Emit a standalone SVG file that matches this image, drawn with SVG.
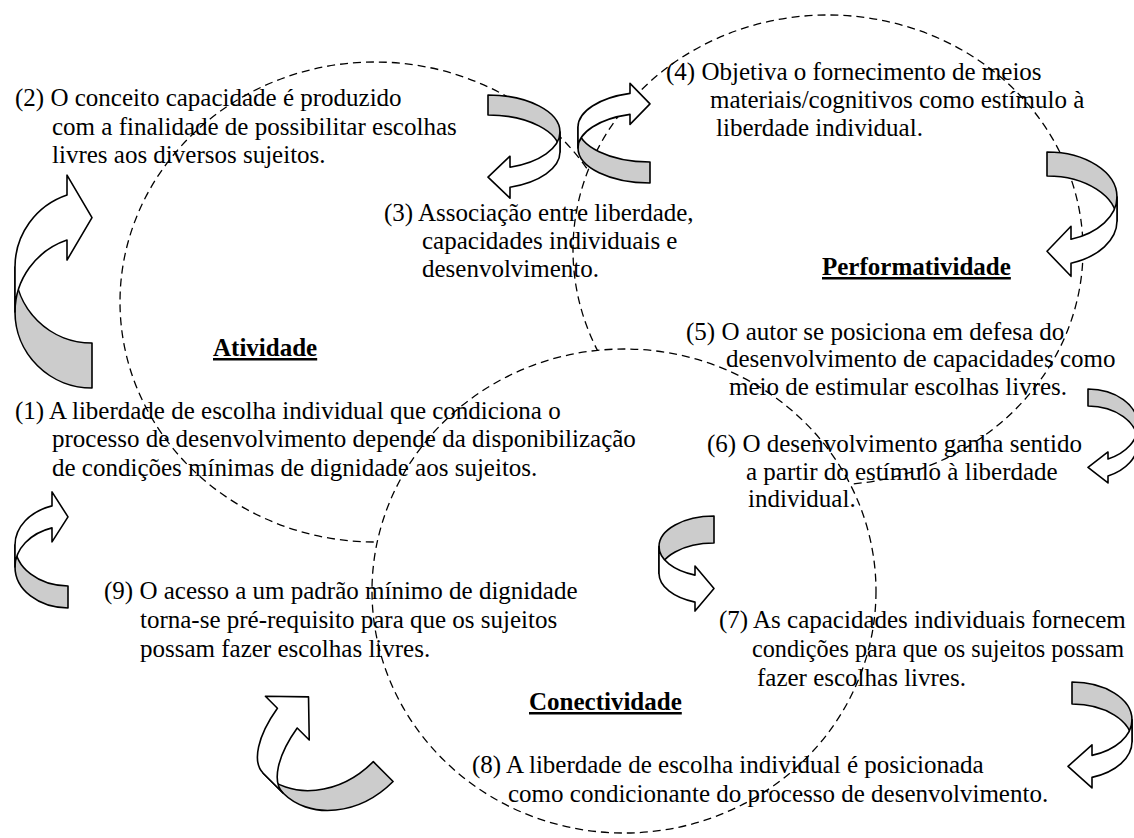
<svg xmlns="http://www.w3.org/2000/svg" width="1134" height="838" viewBox="0 0 1134 838">
<style>
.c{fill:#fff;stroke:#000;stroke-width:1.3;stroke-dasharray:8 5}
.bk{fill:#cccccc;stroke:#000;stroke-width:1.6;stroke-linejoin:round}
.fr{fill:#fff;stroke:#000;stroke-width:1.6;stroke-linejoin:round}
text{font-family:"Liberation Serif","Times New Roman",serif;font-size:25px;fill:#000}
.h{font-weight:bold;text-decoration:underline}
</style>
<rect width="1134" height="838" fill="#fff"/>
<g id="node-atividade">
<ellipse class="c" cx="375" cy="302" rx="255" ry="240"/>
<text class="h" x="213" y="356">Atividade</text>
</g>
<g id="node-performatividade">
<ellipse class="c" cx="828" cy="250" rx="255" ry="235"/>
<text class="h" x="822" y="275">Performatividade</text>
</g>
<g id="node-conectividade">
<ellipse class="c" cx="624" cy="591" rx="252" ry="242"/>
<text class="h" x="529" y="710">Conectividade</text>
</g>
<g id="connectors">
<g id="arrow-1-2" transform="translate(15,388) scale(1,-1)">
<path class="bk" d="M0,76 A77,76 0 0 1 77,0 L77,45 A77,76 0 0 0 0,121 Z"/>
<path class="fr" d="M0,76 A77,76 0 0 0 52,147.9 L52,127.9 L77,170.4 L52,212.9 L52,192.9 A77,76 0 0 1 0,121 Z"/>
</g>
<g id="arrow-2-3" transform="translate(560,95) scale(-1,1)">
<path class="bk" d="M0,37 A72,37 0 0 1 72,0 L72,20 A72,37 0 0 0 0,57 Z"/>
<path class="fr" d="M0,37 A72,37 0 0 0 50,72.2 L50,61.2 L72,82.2 L50,103.2 L50,92.2 A72,37 0 0 1 0,57 Z"/>
</g>
<g id="arrow-3-4" transform="translate(578,183) scale(1,-1)">
<path class="bk" d="M0,35 A72,35 0 0 1 72,0 L72,21 A72,35 0 0 0 0,56 Z"/>
<path class="fr" d="M0,35 A72,35 0 0 0 52,68.6 L52,58.6 L72,79.1 L52,99.6 L52,89.6 A72,35 0 0 1 0,56 Z"/>
</g>
<g id="arrow-4-5" transform="translate(1117,152) scale(-1,1)">
<path class="bk" d="M0,45 A70,45 0 0 1 70,0 L70,24 A70,45 0 0 0 0,69 Z"/>
<path class="fr" d="M0,45 A70,45 0 0 0 46,87.3 L46,74.3 L70,99.3 L46,124.3 L46,111.3 A70,45 0 0 1 0,69 Z"/>
</g>
<g id="arrow-5-6" transform="translate(1138,389) scale(-1,1)">
<path class="bk" d="M0,36.5 A50,36.5 0 0 1 50,0 L50,17 A50,36.5 0 0 0 0,53.5 Z"/>
<path class="fr" d="M0,36.5 A50,36.5 0 0 0 30,69.95 L30,62.95 L50,78.45 L30,93.95 L30,86.95 A50,36.5 0 0 1 0,53.5 Z"/>
</g>
<g id="arrow-6-7" transform="translate(659,516)">
<path class="bk" d="M0,30.5 A55,30.5 0 0 1 55,0 L55,27 A55,30.5 0 0 0 0,57.5 Z"/>
<path class="fr" d="M0,30.5 A55,30.5 0 0 0 36,59.1 L36,50.1 L55,72.6 L36,95.1 L36,86.1 A55,30.5 0 0 1 0,57.5 Z"/>
</g>
<g id="arrow-7-8" transform="translate(1132,682) scale(-1,1)">
<path class="bk" d="M0,37.75 A60,37.75 0 0 1 60,0 L60,22 A60,37.75 0 0 0 0,59.75 Z"/>
<path class="fr" d="M0,37.75 A60,37.75 0 0 0 40,73.35 L40,62.85 L64,84.35 L40,105.85 L40,95.35 A60,37.75 0 0 1 0,59.75 Z"/>
</g>
<g id="arrow-8-9" transform="translate(283,793) rotate(-45) scale(1,-1)">
<path class="bk" d="M0,0 A86,69.7 0 0 1 86,-69.7 L86,-41.7 A86,69.7 0 0 0 0,28 Z"/>
<path class="fr" d="M0,0 A86,38.3 0 0 0 56,35.9 L56,18.9 L86,49.9 L56,80.9 L56,63.9 A86,38.3 0 0 1 0,28 Z"/>
</g>
<g id="arrow-9-1" transform="translate(15,608) scale(1,-1)">
<path class="bk" d="M0,41 A53,41 0 0 1 53,0 L53,22 A53,41 0 0 0 0,63 Z"/>
<path class="fr" d="M0,41 A53,41 0 0 0 37,80.1 L37,66.1 L53,91.1 L37,116.1 L37,102.1 A53,41 0 0 1 0,63 Z"/>
</g>
</g>
<g id="node-2">
<text x="15" y="106">(2) O conceito capacidade é produzido</text>
<text x="52" y="135">com a finalidade de possibilitar escolhas</text>
<text x="52" y="163">livres aos diversos sujeitos.</text>
</g>
<g id="node-3">
<text x="384" y="221">(3) Associação entre liberdade,</text>
<text x="422" y="249">capacidades individuais e</text>
<text x="422" y="277">desenvolvimento.</text>
</g>
<g id="node-4">
<text x="666" y="80">(4) Objetiva o fornecimento de meios</text>
<text x="710" y="108">materiais/cognitivos como estímulo à</text>
<text x="716" y="136">liberdade individual.</text>
</g>
<g id="node-5">
<text x="686" y="340">(5) O autor se posiciona em defesa do</text>
<text x="726" y="367">desenvolvimento de capacidades como</text>
<text x="729" y="395">meio de estimular escolhas livres.</text>
</g>
<g id="node-6">
<text x="707" y="452">(6) O desenvolvimento ganha sentido</text>
<text x="746" y="480">a partir do estímulo à liberdade</text>
<text x="748" y="507">individual.</text>
</g>
<g id="node-1">
<text x="15" y="419">(1) A liberdade de escolha individual que condiciona o</text>
<text x="52" y="447">processo de desenvolvimento depende da disponibilização</text>
<text x="52" y="476">de condições mínimas de dignidade aos sujeitos.</text>
</g>
<g id="node-9">
<text x="104" y="599">(9) O acesso a um padrão mínimo de dignidade</text>
<text x="140" y="628">torna-se pré-requisito para que os sujeitos</text>
<text x="140" y="657">possam fazer escolhas livres.</text>
</g>
<g id="node-7">
<text x="719" y="628">(7) As capacidades individuais fornecem</text>
<text x="752" y="657" textLength="372" lengthAdjust="spacingAndGlyphs">condições para que os sujeitos possam</text>
<text x="757" y="686">fazer escolhas livres.</text>
</g>
<g id="node-8">
<text x="472" y="773">(8) A liberdade de escolha individual é posicionada</text>
<text x="508" y="802">como condicionante do processo de desenvolvimento.</text>
</g>
</svg>
